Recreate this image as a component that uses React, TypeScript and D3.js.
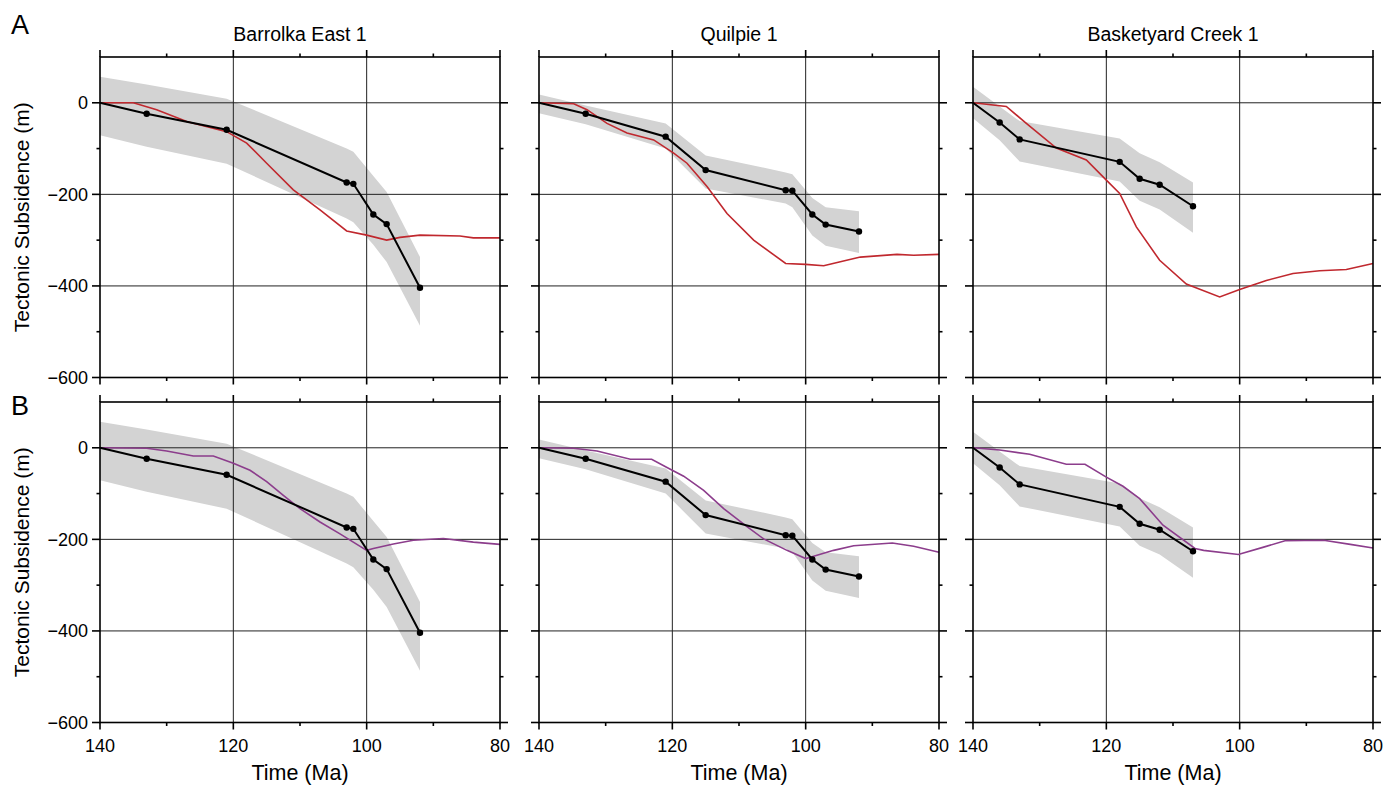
import React, { useEffect, useRef } from "react";
import * as d3 from "d3";

// well names (panel titles)
const wellNames = ["Barrolka East 1", "Quilpie 1", "Basketyard Creek 1"];
const rowLabels = ["A", "B"];

// backstripped subsidence (black line with dots) and uncertainty envelope
const barrolkaAge = [140, 133, 121, 103, 102, 99, 97, 92];
const barrolkaSub = [0, -24, -59, -174, -177, -244, -265, -404];
const barrolkaUpper = [57, 40, 9, -100, -107, -160, -195, -337];
const barrolkaLower = [-71, -96, -133, -253, -261, -310, -348, -487];

const quilpieAge = [140, 133, 121, 115, 103, 102, 99, 97, 92];
const quilpieSub = [0, -24, -74, -147, -191, -192, -244, -266, -281];
const quilpieUpper = [18, -6, -45, -115, -152, -156, -208, -228, -237];
const quilpieLower = [-23, -47, -100, -187, -220, -228, -290, -312, -328];

const basketAge = [140, 136, 133, 118, 115, 112, 107];
const basketSub = [0, -43, -80, -129, -166, -179, -226];
const basketUpper = [35, -8, -40, -78, -110, -130, -174];
const basketLower = [-34, -82, -128, -172, -214, -233, -284];

// model A (red)
const barrolkaModelAAge = [140, 135, 131.5, 127, 121, 118, 115, 111, 107, 103, 100, 97, 95, 92, 86, 84, 80];
const barrolkaModelA = [0, 0, -15, -41, -63, -88, -132, -190, -234, -280, -289, -300, -294, -289, -291, -295, -295];
const quilpieModelAAge = [140, 134.8, 132.8, 129.8, 126.8, 122.8, 119.8, 117.8, 114.8, 111.8, 107.8, 103, 100, 97.3, 94.8, 91.8, 86.3, 83.8, 80];
const quilpieModelA = [0, -2, -15, -45, -66, -81, -110, -132, -183, -242, -300, -351, -353, -356, -347, -337, -331, -333, -331];
const basketModelAAge = [140, 135, 132, 127.5, 123, 120, 118, 115.5, 112, 108, 103, 100, 96, 92, 88, 84, 80];
const basketModelA = [0, -8, -45, -99, -125, -169, -198, -271, -344, -396, -424, -408, -388, -373, -367, -364, -351];

// model B (purple)
const barrolkaModelBAge = [140, 133, 130, 126, 123, 120, 117.5, 115, 112.5, 110, 107, 104, 100, 99, 96, 93, 88.5, 84, 80];
const barrolkaModelB = [0, -1, -7, -18, -18, -34, -49, -74, -104, -133, -162, -188, -224, -220, -210, -202, -198, -206, -211];
const quilpieModelBAge = [140, 134.8, 131.3, 126.3, 123.1, 120.8, 118.3, 115.3, 112.3, 108.8, 106.3, 102.8, 100, 98.8, 95.8, 92.8, 87, 83.8, 80];
const quilpieModelB = [0, -1, -7, -25, -25, -43, -62, -93, -133, -172, -199, -224, -242, -237, -224, -214, -208, -215, -228];
const basketModelBAge = [140, 136, 131.5, 126, 123.2, 120, 117.5, 115, 111.5, 106.7, 105.4, 100.2, 96.4, 93.2, 87.4, 83.4, 80];
const basketModelB = [0, -5, -14, -36, -36, -64, -84, -111, -169, -220, -224, -233, -217, -203, -202, -211, -219];

const timeTicks = [140, 120, 100, 80];
const timeMinor = [130, 110, 90];
const subTicks = [0, -200, -400, -600];
const subMinor = [-100, -300, -500];

const wells = [
  { age: barrolkaAge, sub: barrolkaSub, upper: barrolkaUpper, lower: barrolkaLower,
    modelA: [barrolkaModelAAge, barrolkaModelA], modelB: [barrolkaModelBAge, barrolkaModelB] },
  { age: quilpieAge, sub: quilpieSub, upper: quilpieUpper, lower: quilpieLower,
    modelA: [quilpieModelAAge, quilpieModelA], modelB: [quilpieModelBAge, quilpieModelB] },
  { age: basketAge, sub: basketSub, upper: basketUpper, lower: basketLower,
    modelA: [basketModelAAge, basketModelA], modelB: [basketModelBAge, basketModelB] },
];

const W = 1393;
const H = 786;
const colLeft = [100, 539, 973];
const panelW = 400;
const rowTop = [57, 402];
const panelH = 320.5;
const modelColors = ["#c0282e", "#8c3d8c"];
const font = "'Liberation Sans', Arial, Helvetica, sans-serif";

const App = () => {
  const svgRef = useRef(null);

  useEffect(() => {
    const svg = d3.select(svgRef.current);
    svg.selectAll("*").remove();

    rowLabels.forEach((rowLabel, r) => {
      const top = rowTop[r];
      const y = d3.scaleLinear().domain([100, -600]).range([top, top + panelH]);

      wells.forEach((w, c) => {
        const left = colLeft[c];
        const x = d3.scaleLinear().domain([140, 80]).range([left, left + panelW]);
        const g = svg.append("g");

        // uncertainty envelope
        const band = w.age.map((a, i) => ({ a, lo: w.lower[i], hi: w.upper[i] }));
        g.append("path")
          .datum(band)
          .attr("fill", "#d3d3d3")
          .attr("d", d3.area().x(d => x(d.a)).y0(d => y(d.lo)).y1(d => y(d.hi)));

        // grid
        g.selectAll(".vgrid")
          .data([120, 100])
          .enter()
          .append("line")
          .attr("x1", d => x(d)).attr("x2", d => x(d))
          .attr("y1", top).attr("y2", top + panelH)
          .attr("stroke", "#222").attr("stroke-width", 1);
        g.selectAll(".hgrid")
          .data([0, -200, -400])
          .enter()
          .append("line")
          .attr("x1", left).attr("x2", left + panelW)
          .attr("y1", d => y(d)).attr("y2", d => y(d))
          .attr("stroke", "#222").attr("stroke-width", 1);

        // model curve
        const [mAge, mVal] = r === 0 ? w.modelA : w.modelB;
        g.append("path")
          .datum(mAge.map((a, i) => [a, mVal[i]]))
          .attr("fill", "none")
          .attr("stroke", modelColors[r])
          .attr("stroke-width", 1.6)
          .attr("d", d3.line().x(d => x(d[0])).y(d => y(d[1])));

        // observed subsidence
        const obs = w.age.map((a, i) => [a, w.sub[i]]);
        g.append("path")
          .datum(obs)
          .attr("fill", "none")
          .attr("stroke", "#000")
          .attr("stroke-width", 2)
          .attr("d", d3.line().x(d => x(d[0])).y(d => y(d[1])));
        g.selectAll("circle")
          .data(obs.slice(1))
          .enter()
          .append("circle")
          .attr("cx", d => x(d[0]))
          .attr("cy", d => y(d[1]))
          .attr("r", 3.2)
          .attr("fill", "#000");

        // frame
        g.append("rect")
          .attr("x", left).attr("y", top)
          .attr("width", panelW).attr("height", panelH)
          .attr("fill", "none")
          .attr("stroke", "#000")
          .attr("stroke-width", 1.6);

        // outward ticks on all four sides
        const tickSets = [
          { vals: timeTicks, len: 7 },
          { vals: timeMinor, len: 3.5 },
        ];
        tickSets.forEach(({ vals, len }) => {
          vals.forEach(v => {
            g.append("line").attr("x1", x(v)).attr("x2", x(v))
              .attr("y1", top).attr("y2", top - len)
              .attr("stroke", "#000").attr("stroke-width", 1.6);
            g.append("line").attr("x1", x(v)).attr("x2", x(v))
              .attr("y1", top + panelH).attr("y2", top + panelH + len)
              .attr("stroke", "#000").attr("stroke-width", 1.6);
          });
        });
        [{ vals: subTicks, len: 8 }, { vals: subMinor, len: 3.5 }].forEach(({ vals, len }) => {
          vals.forEach(v => {
            g.append("line").attr("x1", left).attr("x2", left - len)
              .attr("y1", y(v)).attr("y2", y(v))
              .attr("stroke", "#000").attr("stroke-width", 1.6);
            g.append("line").attr("x1", left + panelW).attr("x2", left + panelW + len)
              .attr("y1", y(v)).attr("y2", y(v))
              .attr("stroke", "#000").attr("stroke-width", 1.6);
          });
        });

        // y tick labels on first column
        if (c === 0) {
          g.selectAll(".ylab")
            .data(subTicks)
            .enter()
            .append("text")
            .attr("x", left - 12)
            .attr("y", d => y(d))
            .attr("dy", "0.36em")
            .attr("text-anchor", "end")
            .style("font-family", font)
            .style("font-size", "18px")
            .text(d => (d < 0 ? "\u2212" + Math.abs(d) : String(d)));

          g.append("text")
            .attr("transform", `translate(29,${top + panelH / 2}) rotate(-90)`)
            .attr("text-anchor", "middle")
            .style("font-family", font)
            .style("font-size", "21px")
            .text("Tectonic Subsidence (m)");
        }

        // titles
        if (r === 0) {
          g.append("text")
            .attr("x", left + panelW / 2)
            .attr("y", 40.5)
            .attr("text-anchor", "middle")
            .style("font-family", font)
            .style("font-size", "19.5px")
            .text(wellNames[c]);
        }

        // x tick labels and axis title on bottom row
        if (r === 1) {
          g.selectAll(".xlab")
            .data(timeTicks)
            .enter()
            .append("text")
            .attr("x", d => x(d))
            .attr("y", top + panelH + 29)
            .attr("text-anchor", "middle")
            .style("font-family", font)
            .style("font-size", "18px")
            .text(d => d);
          g.append("text")
            .attr("x", left + panelW / 2)
            .attr("y", 780)
            .attr("text-anchor", "middle")
            .style("font-family", font)
            .style("font-size", "21.5px")
            .text("Time (Ma)");
        }
      });

      svg.append("text")
        .attr("x", 11)
        .attr("y", r === 0 ? 34 : 415)
        .style("font-family", font)
        .style("font-size", "27px")
        .text(rowLabel);
    });
  }, []);

  return (
    <div style={{ position: "absolute", left: 0, top: 0 }}>
      <svg width={W} height={H} ref={svgRef} style={{ display: "block", background: "#fff" }}></svg>
    </div>
  );
};

export default App;
